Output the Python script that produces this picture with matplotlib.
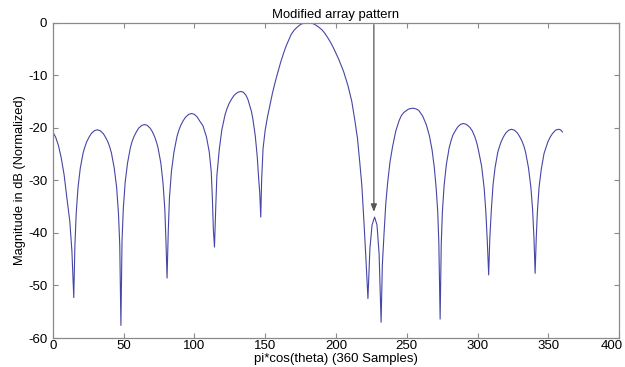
import matplotlib
matplotlib.use("Agg")
import matplotlib.pyplot as plt
from matplotlib.transforms import ScaledTranslation

plt.rcParams['font.family'] = ['Liberation Sans', 'DejaVu Sans']

# Sample positions (pi*cos(theta) index) and normalized magnitude in dB
x_samples = [
    0, 2, 4, 6, 8, 10, 12, 13.5, 14.8,
    15.6, 16.5, 17.8, 19.4, 21.4, 22.6, 23.9, 25.6, 27.2, 29.4, 31.4, 33.4, 35.6, 37.2, 38.9, 40.25, 41.4, 43.4, 45.1, 46.4, 47.3, 48.1,
    48.9, 49.8, 51.1, 52.8, 54.8, 55.9, 57.3, 59.0, 60.6, 62.8, 64.8, 66.7, 68.8, 70.4, 71.9, 73.2, 74.3, 76.3, 77.8, 79.1, 79.9, 80.7,
    81.6, 82.4, 83.8, 85.6, 87.7, 88.9, 90.3, 92.0, 93.8, 96.0, 98.1, 100.0, 102.1, 103.7, 106.0, 107.2, 108.5, 110.5, 111.9, 112.7, 113.4, 114.2,
    115.1, 115.9, 117.6, 119.4, 121.7, 123.0, 124.5, 126.4, 128.2, 130.7, 132.9, 134.6, 136.4, 137.8, 139.2, 140.3, 141.3, 143.0, 144.4, 145.5, 146.2, 146.9,
    147.5, 148.5, 150.0, 151.6, 153.3, 155.1, 156.9, 158.6, 161.0, 163.3, 164.9, 166.5, 168.3, 170.3, 172.5, 175.0, 177.5, 180.2,
    183.0, 185.0, 187.5, 190.2, 192.3, 194.5, 196.5, 198.4, 202.0, 205.4, 208.5, 211.2, 213.3, 215.2, 216.8, 218.3, 219.8, 221.2, 222.6,
    224.0, 225.5, 227.3, 229.0, 230.5, 231.9,
    232.8, 234.0, 235.2, 236.5, 238.2, 240.0, 242.3, 244.7, 246.2, 248.0, 251.0, 252.8, 254.7, 256.6, 258.5, 261.3, 263.8, 266.0,
    267.9, 269.5, 270.8, 271.9, 272.7, 273.6,
    274.4, 275.2, 276.4, 278.0, 280.0, 281.3, 282.6, 284.3, 285.9, 288.0, 290.0, 292.1, 294.5, 296.3, 298.1, 299.5, 300.7, 302.9, 304.7, 305.9, 306.9, 307.9,
    308.7, 309.8, 311.0, 312.4, 314.3, 315.5, 316.8, 318.4, 320.0, 322.1, 324.0, 326.0, 328.2, 329.8, 331.5, 332.9, 334.0, 336.0, 337.7, 338.9, 339.9, 340.7,
    341.5, 342.3, 343.5, 345.0, 347.0, 349.7, 351.3, 353.0, 355.2, 357.1, 358.2, 359.0, 360.0,
]
magnitude_db = [
    -20.8, -21.8, -23.4, -25.8, -29.0, -33.5, -37.8, -43.5, -52.3,
    -42.4, -36.4, -31.4, -27.7, -24.8, -23.7, -22.7, -21.8, -21.1, -20.56, -20.4, -20.56, -21.1, -21.8, -22.7, -23.7, -24.8, -27.7, -31.4, -36.4, -42.4, -57.6,
    -41.4, -35.4, -30.4, -26.7, -23.8, -22.7, -21.7, -20.8, -20.1, -19.56, -19.4, -19.56, -20.1, -20.8, -21.7, -22.7, -23.8, -26.7, -30.4, -35.4, -41.4, -48.6,
    -39.3, -33.3, -28.3, -24.6, -21.7, -20.6, -19.6, -18.7, -18.0, -17.46, -17.3, -17.46, -18.0, -18.7, -19.6, -20.6, -21.7, -24.6, -28.3, -33.3, -39.3, -42.7,
    -35.1, -29.1, -24.1, -20.4, -17.5, -16.4, -15.4, -14.5, -13.8, -13.26, -13.1, -13.26, -13.8, -14.6, -15.9, -16.9, -18.3, -21.5, -25.5, -30.0, -32.5, -37.0,
    -30.0, -24.0, -20.5, -18.0, -15.8, -13.5, -11.5, -9.8, -7.5, -5.6, -4.4, -3.4, -2.3, -1.5, -0.9, -0.35, -0.1, 0.0,
    -0.12, -0.35, -0.8, -1.4, -2.1, -3.0, -3.9, -4.9, -7.0, -9.3, -12.0, -15.0, -18.5, -22.0, -26.5, -31.0, -38.0, -45.0, -52.5,
    -43.0, -38.5, -37.0, -38.5, -44.0, -57.0,
    -46.0, -40.0, -34.5, -30.5, -26.5, -23.6, -20.6, -18.6, -17.7, -17.1, -16.5, -16.34, -16.3, -16.42, -16.7, -17.8, -19.4, -21.5,
    -24.2, -27.6, -31.5, -36.0, -42.0, -56.4,
    -42.0, -36.0, -31.0, -27.0, -23.8, -22.5, -21.4, -20.6, -19.9, -19.36, -19.2, -19.36, -19.9, -20.6, -21.7, -22.9, -24.3, -27.3, -31.5, -36.0, -41.5, -48.0,
    -41.0, -35.5, -30.8, -27.6, -24.7, -23.6, -22.6, -21.7, -21.0, -20.46, -20.3, -20.46, -21.0, -21.7, -22.6, -23.6, -24.7, -27.6, -31.3, -35.5, -41.0, -47.7,
    -41.0, -36.0, -31.3, -28.0, -24.9, -22.7, -21.8, -21.1, -20.45, -20.3, -20.35, -20.5, -20.8,
]

x_ticks = [0, 50, 100, 150, 200, 250, 300, 350, 400]
y_ticks = [-60, -50, -40, -30, -20, -10, 0]

title_text = "Modified array pattern"
x_label = "pi*cos(theta) (360 Samples)"
y_label = "Magnitude in dB (Normalized)"

# index of the small modified lobe the arrow points to
arrow_index = x_samples.index(227.3)

fig = plt.figure(figsize=(6.25, 3.67), dpi=100)
ax = fig.add_axes([0.0845, 0.079, 0.906, 0.8595])

ax.plot(x_samples, magnitude_db, color='#4646a6', linewidth=0.8)

ax.set_xlim(0, 400)
ax.set_ylim(-60, 0)
ax.set_xticks(x_ticks)
ax.set_yticks(y_ticks)
ax.set_xticklabels([str(v) for v in x_ticks])
ax.set_yticklabels([str(v) for v in y_ticks])

axis_col = '#8a8a8a'
for s in ax.spines.values():
    s.set_color(axis_col)
    s.set_linewidth(0.9)
ax.tick_params(direction='in', length=3.5, width=0.8, color=axis_col,
               labelsize=9.5, labelcolor='black', top=True, right=True, pad=3)
ax.tick_params(axis='y', pad=4)
ax.tick_params(axis='x', pad=1.5)

# keep the last x tick label inside the canvas
last_lbl = ax.get_xticklabels()[-1]
last_lbl.set_transform(last_lbl.get_transform() + ScaledTranslation(-7 / 100, 0, fig.dpi_scale_trans))

ax.set_title(title_text, fontsize=9.4, pad=3)
ax.set_xlabel(x_label, fontsize=9.5, labelpad=1)
ax.set_ylabel(y_label, fontsize=9.3, labelpad=1.5)

ax.annotate('', xy=(x_samples[arrow_index] - 0.5, magnitude_db[arrow_index] + 1.0),
            xytext=(x_samples[arrow_index] - 0.5, -0.4),
            arrowprops=dict(arrowstyle='-|>,head_length=0.45,head_width=0.18',
                            color='#555555', lw=0.9, shrinkA=0, shrinkB=0))

fig.savefig('out.png', dpi=100, facecolor='white')
